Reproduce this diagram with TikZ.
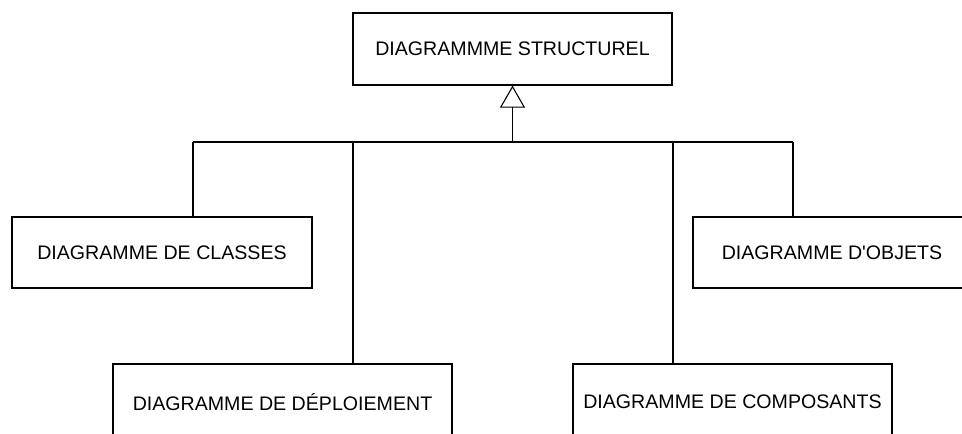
\documentclass[tikz,border=0pt]{standalone}
\usepackage{fontspec}
\setmainfont{Liberation Sans}
\usetikzlibrary{arrows.meta}

\begin{document}
\begin{tikzpicture}[x=1pt, y=-1pt, line width=1.2pt,
            diag/.style={draw, rectangle, inner sep=0pt, font=\fontsize{19.6}{23}\selectfont},
            genarrow/.style={-{Triangle[open, length=22pt, width=25pt, line width=1.1pt]}}]
            \useasboundingbox (0,0) rectangle (962,434);
            \clip (0,0) rectangle (962,434);

            \node[diag, minimum width=319, minimum height=72] (top) at (512.5,49) {DIAGRAMMME STRUCTUREL};
            \node[diag, minimum width=300, minimum height=71] (classes) at (162,252.5) {DIAGRAMME DE CLASSES};
            \node[diag, minimum width=278, minimum height=71] (objets) at (832,252.5) {DIAGRAMME D\textquotesingle OBJETS};
            \node[diag, minimum width=339, minimum height=76] (deploi) at (282.5,402) {DIAGRAMME DE DÉPLOIEMENT};
            \node[diag, minimum width=319, minimum height=76] (compo) at (732.5,402) {DIAGRAMME DE COMPOSANTS};

            \coordinate (hub) at (512.5,142);
            \foreach \n\x in {classes/193, deploi/353, compo/673, objets/793} {
                \coordinate (j\n) at (\x,142);
                \draw[] (j\n)--(j\n |- \n.north);
            }

            \draw[] (jclasses)--(jobjets);
            \draw[genarrow] (hub)--(top.south);
        \end{tikzpicture}
\end{document}
